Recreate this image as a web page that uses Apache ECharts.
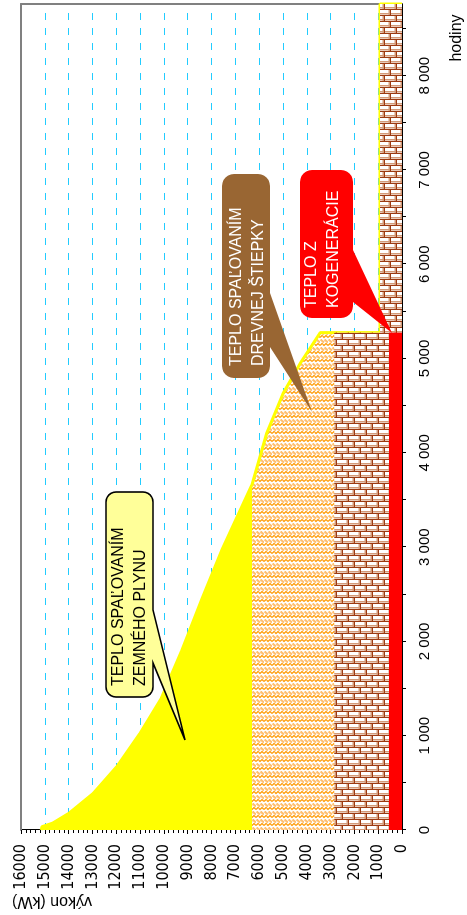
<!DOCTYPE html>
<html><head><meta charset="utf-8">
<script src="https://cdn.jsdelivr.net/npm/echarts@6/dist/echarts.min.js"></script>
<style>
html,body{margin:0;padding:0;background:#fff;overflow:hidden;width:467px;height:915px}
#c{position:absolute;left:0;top:0;width:915px;height:467px;transform-origin:0 0;transform:translateY(915px) rotate(-90deg);}
</style></head><body><div id="c"></div>
<script>
// ---- data (hours of year, heat output in kW) ----
const curveHours = [0, 35, 75, 175, 390, 670, 1025, 1400, 1900, 2450, 2970, 3660, 4200, 4630, 4950, 5275, 5275, 8760, 8760];
const curveKw    = [15150, 15120, 14650, 14000, 12960, 11980, 11000, 10100, 9250, 8400, 7560, 6300, 5690, 4990, 4275, 3430, 920, 920, 0];
const chipsHours = [0, 3660, 4200, 4630, 4950, 5275];
const chipsKw    = [6300, 6300, 5690, 4990, 4275, 3430];
const brickHours = [0, 5275, 5275, 8760];
const brickKw    = [2850, 2850, 920, 920];
const redHours   = [0, 5275];
const redKw      = [550, 550];
const hourTickLabels = ['0', '1 000', '2 000', '3 000', '4 000', '5 000', '6 000', '7 000', '8 000'];
const labelGas   = ['TEPLO SPAĽOVANÍM', 'ZEMNÉHO PLYNU'];
const labelChips = ['TEPLO SPAĽOVANÍM', 'DREVNEJ ŠTIEPKY'];
const labelCogen = ['TEPLO Z', 'KOGENERÁCIE'];
const xName = 'hodiny';
const yName = 'výkon (kW)';

function pairs(xs, ys) { return xs.map((x, i) => [x, ys[i]]); }

// pattern tiles drawn in the displayed (rotated) orientation
function makeTile(w, h, draw) {
  const c = document.createElement('canvas');
  c.width = h; c.height = w;
  const ctx = c.getContext('2d');
  ctx.setTransform(0, 1, -1, 0, h, 0);
  draw(ctx, w, h);
  return c;
}
const brickTile = makeTile(12, 12, (ctx) => {
  ctx.fillStyle = '#ffffff'; ctx.fillRect(0, 0, 12, 12);
  ctx.fillStyle = '#d39a78';
  ctx.fillRect(0, 4, 12, 1.5); ctx.fillRect(0, 10, 12, 1.5);
  ctx.fillRect(10.5, 1, 1.5, 5); ctx.fillRect(4.5, 7, 1.5, 5);
  ctx.fillStyle = '#9c3a12';
  ctx.fillRect(0, 0, 12, 1); ctx.fillRect(0, 6, 12, 1);
  ctx.fillRect(0, 0, 1, 6); ctx.fillRect(6, 6, 1, 6);
});
const chipsTile = makeTile(8, 8, (ctx) => {
  ctx.fillStyle = '#ffffff'; ctx.fillRect(0, 0, 8, 8);
  ctx.strokeStyle = '#ffbf70'; ctx.lineWidth = 2;
  ctx.beginPath(); ctx.moveTo(0.5, 0.5); ctx.lineTo(4, 3.5); ctx.stroke();
  ctx.beginPath(); ctx.moveTo(4.5, 0.5); ctx.lineTo(8, 3.5); ctx.stroke();
  ctx.strokeStyle = '#ff9900'; ctx.lineWidth = 1.2;
  ctx.beginPath(); ctx.moveTo(0, 6.5); ctx.lineTo(2, 4.5); ctx.lineTo(4, 6.5); ctx.lineTo(6, 4.5); ctx.lineTo(8, 6.5); ctx.stroke();
});

// rounded box with a pointer leaving its lower (y1) edge
function arcPts(cx, cy, r, a0, a1) {
  const out = [];
  for (let i = 0; i <= 6; i++) { const a = a0 + (a1 - a0) * i / 6; out.push([cx + r * Math.cos(a), cy + r * Math.sin(a)]); }
  return out;
}
function callout(x0, y0, x1, y1, r, b1, b2, tx, ty) {
  const P = Math.PI;
  return [].concat(
    arcPts(x0 + r, y0 + r, r, P, 1.5 * P),
    arcPts(x1 - r, y0 + r, r, 1.5 * P, 2 * P),
    arcPts(x1 - r, y1 - r, r, 0, 0.5 * P),
    [[b2, y1], [tx, ty], [b1, y1]],
    arcPts(x0 + r, y1 - r, r, 0.5 * P, P)
  );
}
const FAMILY = '"Liberation Sans", Arial, sans-serif';
function txt(x, y, s, color) {
  return { type: 'text', x: x, y: y, z: 101,
    style: { text: s, fill: color, fontSize: 16, fontFamily: FAMILY, textAlign: 'left', textVerticalAlign: 'middle' } };
}

const chart = echarts.init(document.getElementById('c'), null, { width: 915, height: 467, renderer: 'canvas' });
chart.setOption({
  animation: false,
  backgroundColor: '#ffffff',
  grid: { left: 85, right: 4, top: 21, bottom: 65, containLabel: false },
  xAxis: [
    { type: 'value', min: 0, max: 8760, interval: 500, position: 'bottom',
      axisLine: { show: true, onZero: false, lineStyle: { color: '#000', width: 1 } },
      axisTick: { show: true, length: 4, lineStyle: { color: '#000' } },
      axisLabel: { color: '#000', fontSize: 15, fontFamily: FAMILY, margin: 15, showMaxLabel: false,
        formatter: v => (v % 1000 === 0 && hourTickLabels[v / 1000] !== undefined) ? hourTickLabels[v / 1000] : '' },
      splitLine: { show: false } },
    { type: 'value', min: 0, max: 8760, position: 'top',
      axisLine: { show: true, onZero: false, lineStyle: { color: '#808080', width: 2 } },
      axisTick: { show: false }, axisLabel: { show: false }, splitLine: { show: false } }
  ],
  yAxis: [
    { type: 'value', min: 0, max: 16000, interval: 1000, position: 'left',
      axisLine: { show: true, onZero: false, lineStyle: { color: '#000', width: 1 } },
      axisTick: { show: true, length: 4, lineStyle: { color: '#000' } },
      minorTick: { show: true, splitNumber: 5, length: 3, lineStyle: { color: '#000' } },
      axisLabel: { color: '#000', fontSize: 16, fontFamily: '"Liberation Sans Narrow", "DejaVu Sans Condensed", sans-serif', margin: 14,
        formatter: v => String(v) },
      splitLine: { show: true, lineStyle: { color: '#22ccff', type: [7, 8], width: 1 } } },
    { type: 'value', min: 0, max: 16000, position: 'right',
      axisLine: { show: true, onZero: false, lineStyle: { color: '#808080', width: 2 } },
      axisTick: { show: false }, axisLabel: { show: false }, splitLine: { show: false } }
  ],
  series: [
    { name: 'zemný plyn', type: 'line', data: pairs(curveHours, curveKw), symbol: 'none', z: 1,
      lineStyle: { width: 0 }, areaStyle: { color: '#ffff00', opacity: 1 } },
    { name: 'drevná štiepka', type: 'line', data: pairs(chipsHours, chipsKw), symbol: 'none', z: 2,
      lineStyle: { width: 0 }, areaStyle: { color: { image: chipsTile, repeat: 'repeat' }, opacity: 1 } },
    { name: 'celkový výkon', type: 'line', data: pairs(curveHours, curveKw), symbol: 'none', z: 3,
      lineStyle: { width: 3, color: '#ffff00' } },
    { name: 'kogenerácia', type: 'line', data: pairs(brickHours, brickKw), symbol: 'none', z: 4,
      lineStyle: { width: 0 }, areaStyle: { color: { image: brickTile, repeat: 'repeat' }, opacity: 1 } },
    { name: 'kogenerácia 2', type: 'line', data: pairs(redHours, redKw), symbol: 'none', z: 5,
      lineStyle: { width: 0 }, areaStyle: { color: '#ff0000', opacity: 1 } }
  ],
  graphic: [
    { type: 'polygon', z: 100, shape: { points: callout(218, 106, 423, 153, 10, 252, 305, 175, 185) },
      style: { fill: '#ffff99', stroke: '#000', lineWidth: 1.6 } },
    txt(229, 119, labelGas[0], '#000'),
    txt(229, 141, labelGas[1], '#000'),
    { type: 'polygon', z: 100, shape: { points: callout(537, 222, 741, 270, 12, 568, 622, 503, 312) },
      style: { fill: '#996633' } },
    txt(549, 236.5, labelChips[0], '#fff'),
    txt(549, 258.5, labelChips[1], '#fff'),
    { type: 'polygon', z: 100, shape: { points: callout(597, 300, 745, 353, 12, 613, 665, 582, 392) },
      style: { fill: '#ff0000' } },
    txt(607, 312, labelCogen[0], '#fff'),
    txt(607, 333.5, labelCogen[1], '#fff'),
    { type: 'text', x: 877, y: 457, z: 101,
      style: { text: xName, fill: '#000', fontSize: 16, fontFamily: FAMILY, textAlign: 'center', textVerticalAlign: 'middle' } },
    { type: 'text', x: 14, y: 52, rotation: Math.PI / 2, z: 101,
      style: { text: yName, fill: '#000', fontSize: 16, fontFamily: FAMILY, textAlign: 'center', textVerticalAlign: 'middle' } }
  ]
});
</script></body></html>
